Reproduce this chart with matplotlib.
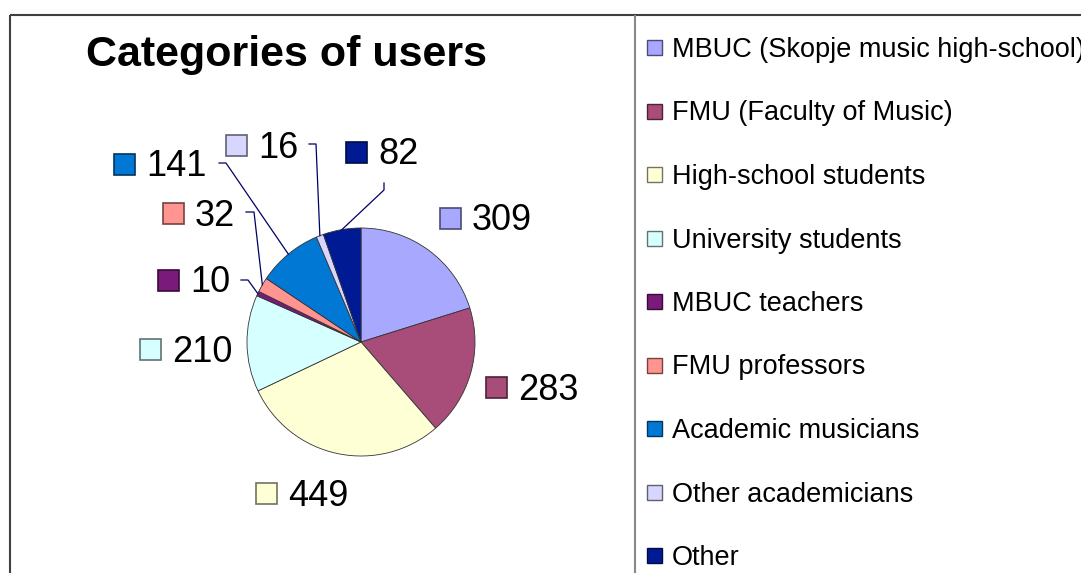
import numpy as np
import matplotlib
matplotlib.use('Agg')
import matplotlib.pyplot as plt
from matplotlib.patches import Rectangle

plt.rcParams['font.family'] = ['Liberation Sans', 'DejaVu Sans']

# data
categories = ['MBUC (Skopje music high-school)', 'FMU (Faculty of Music)',
              'High-school students', 'University students', 'MBUC teachers',
              'FMU professors', 'Academic musicians', 'Other academicians', 'Other']
values = [309, 283, 449, 210, 10, 32, 141, 16, 82]
colors = ['#A8A8FF', '#A84C7A', '#FFFFD6', '#D6FFFF', '#7A1A7A',
          '#FF9490', '#0078D4', '#D6D6FF', '#001A94']

W, H = 1081, 573

def up(y):
    # pixel row (from top) -> axes y (from bottom)
    return H - y

fig = plt.figure(figsize=(W / 100., H / 100.), dpi=100)
ax = fig.add_axes([0, 0, 1, 1])

cx, cy, r = 361, 342, 114
ax.pie(values, colors=colors, startangle=90, counterclock=False,
       center=(cx, up(cy)), radius=r,
       wedgeprops=dict(edgecolor='#333333', linewidth=0.6))
ax.set_xlim(0, W)
ax.set_ylim(0, H)
ax.set_aspect('equal')
ax.axis('off')

# frame lines
ax.plot([10, W], [up(15), up(15)], color='#404040', lw=1.5, solid_capstyle='butt')
ax.plot([10, 10], [up(15), 0], color='#404040', lw=1.5, solid_capstyle='butt')
ax.plot([635, 635], [up(15), 0], color='#888888', lw=1.5, solid_capstyle='butt')

ax.text(286, up(66), 'Categories of users', fontsize=31, fontweight='bold',
        ha='center', va='baseline')

# value labels: square left x, centre y (pixels from top)
label_pos = [(440, 218), (486, 387), (256, 493), (140, 349), (158, 280),
             (163, 213), (114, 164), (226, 145), (346, 152)]
sq = 21
for v, c, (lx, ly) in zip(values, colors, label_pos):
    ec = tuple(np.array(matplotlib.colors.to_rgb(c)) * 0.45)
    ax.add_patch(Rectangle((lx, up(ly) - sq / 2.), sq, sq, facecolor=c,
                           edgecolor=ec, lw=1.2))
    ax.text(lx + sq + 11, up(ly + 12.5), str(v), fontsize=26, va='baseline', ha='left')

# leader lines for the small slices
leaders = {4: [(241, 280), (248, 280)], 5: [(246, 212), (254, 212)],
           6: [(219, 163), (226, 163)], 7: [(309, 144), (316, 144)],
           8: [(384, 183), (384, 190)]}
total = float(sum(values))
cum = np.cumsum(values)
for i, pts in leaders.items():
    t = np.radians(360. * (cum[i] - values[i] / 2.) / total)
    ex, ey = cx + r * np.sin(t), up(cy) + r * np.cos(t)
    xs = [p[0] for p in pts] + [ex]
    ys = [up(p[1]) for p in pts] + [ey]
    ax.plot(xs, ys, color='#000066', lw=0.9)

# legend
for i, (name, c) in enumerate(zip(categories, colors)):
    ry = 47.5 + i * 63.5
    ec = tuple(np.array(matplotlib.colors.to_rgb(c)) * 0.45)
    ax.add_patch(Rectangle((647, up(ry) - 7.5), 15, 15, facecolor=c,
                           edgecolor=ec, lw=1.0))
    ax.text(672, up(ry + 9.5), name, fontsize=19.5, va='baseline', ha='left')

fig.savefig('out.png', dpi=100)
